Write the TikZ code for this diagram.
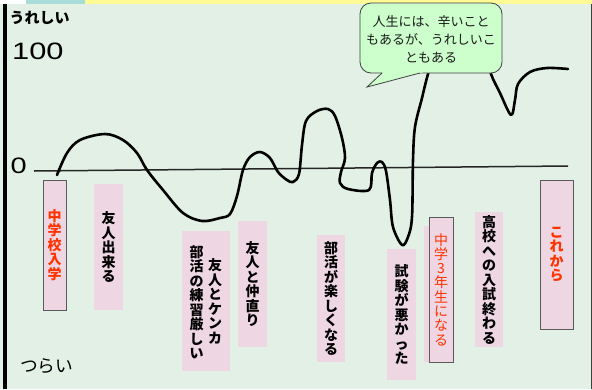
\documentclass[tikz,border=0pt]{standalone}
\usepackage{fontspec}
\usepackage{graphicx}
\newfontfamily\jp{Noto Sans CJK JP}
\newfontfamily\digitfont{Liberation Sans}
\definecolor{bgc}{HTML}{E3F0E6}
\definecolor{tealc}{HTML}{A8DCD8}
\definecolor{yellowc}{HTML}{FFFA96}
\definecolor{pinkc}{HTML}{EED7E3}
\definecolor{framec}{HTML}{5A5A5A}
\definecolor{redc}{HTML}{FF3300}
\definecolor{bubblec}{HTML}{CCFFCC}
\definecolor{bubbleline}{HTML}{404040}
\definecolor{textc}{HTML}{1A1A1A}
\tikzset{
  vtext/.style={align=center, inner sep=0pt, font=\jp\bfseries\fontsize{14}{14.5}\selectfont},
  pinkbox/.style={fill=pinkc, draw=none, inner sep=0pt},
  framebox/.style={fill=pinkc, draw=framec, line width=1pt, inner sep=0pt},
  lifeline/.style={line width=2.6pt, line cap=round, line join=round},
  axisline/.style={line width=1.5pt, draw=black!85},
}
\begin{document}
\begin{tikzpicture}[x=1pt,y=-1pt]
\useasboundingbox (0,0) rectangle (592,389);
% background and frame
\fill[bgc] (0,0) rectangle (592,389);
\fill[white] (0,0) rectangle (26,4);
\fill[tealc] (26,0) rectangle (85,4);
\fill[yellowc] (85,0) rectangle (592,4);
\fill[black] (3,4) rectangle (6.5,389);
\fill[black!75] (590.5,4) rectangle (592,389);

% labels
\node[anchor=west, inner sep=0pt, font=\jp\bfseries\fontsize{15}{15}\selectfont] (happy) at (9.5,18) {うれしい};
\node[anchor=base west, inner sep=0pt, font=\digitfont\fontsize{23.7}{24}\selectfont] (hundred) at (12,59.5) {\scalebox{1.3}[1]{100}};
\node[anchor=base west, inner sep=0pt, font=\digitfont\fontsize{22.3}{23}\selectfont] (zero) at (10.5,173) {\scalebox{1.3}[1]{0}};
\node[anchor=west, inner sep=0pt, font=\jp\fontsize{17.7}{18}\selectfont] (hard) at (20,366) {つらい};

% zero axis
\coordinate (axL) at (34,171);
\coordinate (axR) at (568,166);
\draw[axisline] (axL) -- (axR);

% boxes
\node[framebox, vtext, text=redc, minimum width=23pt, minimum height=130pt] (b1) at (54.5,245) {中\\学\\校\\入\\学};
\node[pinkbox, vtext, minimum width=29pt, minimum height=126pt] (b2) at (108.5,247) {友\\人\\出\\来\\る};
\node[pinkbox, minimum width=48pt, minimum height=140pt] (b3) at (206,301) {};
\node[vtext] (b3a) at (215,301.5) {友\\人\\と\\ケ\\ン\\カ};
\node[vtext] (b3b) at (196.5,302.5) {部\\活\\の\\練\\習\\厳\\し\\い};
\node[pinkbox, vtext, minimum width=29pt, minimum height=126pt] (b4) at (252.5,284) {友\\人\\と\\仲\\直\\り};
\node[pinkbox, vtext, minimum width=28pt, minimum height=127pt] (b5) at (331,298.5) {部\\活\\が\\楽\\し\\く\\な\\る};
\node[pinkbox, vtext, minimum width=29pt, minimum height=131pt] (b6) at (401.5,314.5) {試\\験\\が\\悪\\か\\っ\\た};
\node[pinkbox, minimum width=26pt, minimum height=136pt] (b7s) at (437,294) {};
\node[framebox, align=center, inner sep=0pt, font=\jp\fontsize{14}{14.3}\selectfont, text=redc, minimum width=24pt, minimum height=145pt] (b7) at (441,289.5) {中\\学\\3\\年\\生\\に\\な\\る};
\node[pinkbox, vtext, minimum width=28pt, minimum height=135pt] (b8) at (489,279.5) {高\\校\\へ\\の\\入\\試\\終\\わ\\る};
\node[framebox, vtext, text=redc, minimum width=33pt, minimum height=149pt] (b9) at (556.5,254.5) {こ\\れ\\か\\ら};

% life curve
\draw[lifeline] plot[smooth, tension=0.55] coordinates {
 (57,175) (67,153) (80,140) (105,134) (123,140) (137,153) (147,170) (163,190)
 (183,213) (202,221) (220,218) (230,214) (237,196) (243,170) (250,157) (260,152)
 (270,158) (278,172) (287,180) (293,182) (299,174) (302,145) (306,121) (317,111)
 (328,109) (335,116) (342,138) (345,158) (341,172) (340,183) (348,189) (369,190)
 (372,173) (377,163) (382,162) (386,171) (390,200) (393,227) (402,245) (408,237)
 (412,217) (413,160) (415,127) (422,98) (428,74) (436,50) (455,25) (475,25)
 (487,55) (491,74) (500,93) (511,115) (515,100) (518,84) (530,72) (547,68) (568,69)};

% speech bubble
\filldraw[fill=bubblec, draw=bubbleline, line width=0.8pt, rounded corners=11pt] (360,3) rectangle (502,73);
\fill[bubblec] (384.1,71) -- (367,87) -- (427.6,71) -- cycle;
\coordinate (tip) at (367,87);
\coordinate (tailL) at (382,73);
\coordinate (tailR) at (420,73);
\draw[bubbleline, line width=0.8pt, line join=miter] (tailL) -- (tip) -- (tailR);
\node[align=center, inner sep=0pt, text=textc, font=\jp\fontsize{13}{18}\selectfont] (bt) at (431,39) {人生には、辛いこと\\もあるが、うれしいこ\\ともある};
\end{tikzpicture}
\end{document}
